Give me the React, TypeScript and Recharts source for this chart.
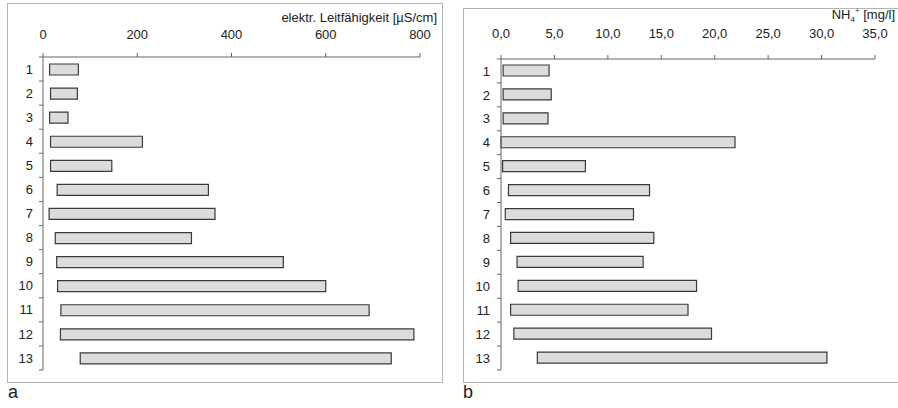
import { BarChart, Bar, XAxis, YAxis } from 'recharts';

// sampling sites 1..13
const sites = ['1', '2', '3', '4', '5', '6', '7', '8', '9', '10', '11', '12', '13'];

// electrical conductivity range [µS/cm]
const ecMin = [14, 16, 14, 16, 16, 30, 13, 26, 29, 31, 38, 37, 79];
const ecMax = [75, 73, 53, 211, 146, 351, 365, 315, 510, 600, 692, 787, 739];
const ecTicks = [0, 200, 400, 600, 800];

// ammonium range [mg/l]
const nhMin = [0.2, 0.2, 0.2, 0.0, 0.15, 0.7, 0.4, 0.9, 1.5, 1.6, 0.9, 1.2, 3.4];
const nhMax = [4.5, 4.7, 4.4, 21.9, 7.9, 13.9, 12.4, 14.3, 13.3, 18.3, 17.5, 19.7, 30.5];
const nhTicks = [0, 5, 10, 15, 20, 25, 30, 35];

const FONT = '"Liberation Sans", Arial, sans-serif';
const AXIS = '#666';

const ecData = sites.map((s, i) => ({ site: s, range: [ecMin[i], ecMax[i]] }));
const nhData = sites.map((s, i) => ({ site: s, range: [nhMin[i], nhMax[i]] }));

function makeSiteTick(band: number, gap: number) {
  return (props: any) => {
    const { x, y, payload, index } = props;
    return (
      <g>
        <line x1={x - 4} x2={x} y1={y - band / 2} y2={y - band / 2} stroke={AXIS} />
        {index === sites.length - 1 && (
          <line x1={x - 4} x2={x} y1={y + band / 2} y2={y + band / 2} stroke={AXIS} />
        )}
        <text x={x - gap} y={y} dy="0.36em" textAnchor="end" fontSize={13} fill="#222" fontFamily={FONT}>
          {payload.value}
        </text>
      </g>
    );
  };
}

interface PanelProps {
  data: { site: string; range: number[] }[];
  width: number;
  height: number;
  margin: { top: number; right: number; left: number; bottom: number };
  domain: [number, number];
  ticks: number[];
  fmt: (v: number) => string;
  labelGap: number;
  tickMargin: number;
}

function RangePanel({ data, width, height, margin, domain, ticks, fmt, labelGap, tickMargin }: PanelProps) {
  const plotH = height - margin.top - 30 - margin.bottom;
  const band = plotH / data.length;
  return (
    <BarChart width={width} height={height} data={data} layout="vertical" margin={margin} barSize={11}>
      <XAxis
        type="number"
        orientation="top"
        domain={domain}
        ticks={ticks}
        interval={0}
        height={30}
        tickSize={4}
        tickMargin={tickMargin}
        tickFormatter={fmt}
        stroke={AXIS}
        tick={{ fontSize: 13, fill: '#222', fontFamily: FONT }}
      />
      <YAxis
        type="category"
        dataKey="site"
        width={30}
        tickLine={false}
        tickSize={0}
        tickMargin={0}
        interval={0}
        stroke={AXIS}
        tick={makeSiteTick(band, labelGap)}
      />
      <Bar dataKey="range" fill="#dcdcdc" stroke="#3a3a3a" strokeWidth={1.2} isAnimationActive={false} />
    </BarChart>
  );
}

export default function App() {
  return (
    <div style={{ position: 'absolute', left: 0, top: 0, width: 898, height: 408, background: '#fff', fontFamily: FONT }}>
      <div style={{ position: 'absolute', left: 7, top: 3, width: 434, height: 378, border: '1px solid #b4b4b4' }} />
      <div style={{ position: 'absolute', left: 463, top: 8, width: 440, height: 373, border: '1px solid #b4b4b4' }} />

      <div style={{ position: 'absolute', left: 7, top: 3 }}>
        <RangePanel
          data={ecData}
          width={435}
          height={379}
          margin={{ top: 24, right: 22, left: 6, bottom: 12 }}
          domain={[0, 800]}
          ticks={ecTicks}
          fmt={(v) => String(v)}
          labelGap={10}
          tickMargin={14}
        />
      </div>
      <div style={{ position: 'absolute', left: 463, top: 8 }}>
        <RangePanel
          data={nhData}
          width={435}
          height={374}
          margin={{ top: 21, right: 23, left: 8, bottom: 12 }}
          domain={[0, 35]}
          ticks={nhTicks}
          fmt={(v) => v.toFixed(1).replace('.', ',')}
          labelGap={11}
          tickMargin={17}
        />
      </div>

      <svg width={898} height={408} style={{ position: 'absolute', left: 0, top: 0, pointerEvents: 'none' }}>
        <text x={437} y={22} textAnchor="end" fontSize={13} fill="#222" fontFamily={FONT}>
          elektr. Leitfähigkeit [µS/cm]
        </text>
        <text x={895} y={19} textAnchor="end" fontSize={13} fill="#222" fontFamily={FONT}>
          NH<tspan fontSize={8} dy={3}>4</tspan>
          <tspan fontSize={8} dy={-9}>+</tspan>
          <tspan dy={6}> [mg/l]</tspan>
        </text>
        <text x={8} y={398} fontSize={18} fill="#222" fontFamily={FONT}>a</text>
        <text x={463} y={398} fontSize={18} fill="#222" fontFamily={FONT}>b</text>
      </svg>
    </div>
  );
}
